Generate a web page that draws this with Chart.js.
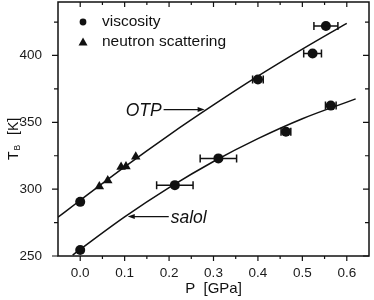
<!DOCTYPE html>
<html>
<head>
<meta charset="utf-8">
<script src="https://cdn.jsdelivr.net/npm/chart.js@4.4.1/dist/chart.umd.min.js"></script>
<style>
html, body { margin: 0; padding: 0; background: #fff; }
</style>
</head>
<body>
<canvas id="graficoTB" width="374" height="300"></canvas>
<script>
// viscosity (circles) + horizontal error half-widths
const viscP = [0, 0, 0.213, 0.311, 0.40, 0.463, 0.523, 0.553, 0.564];
const viscT = [290.5, 254.5, 303, 323, 382, 343, 401.5, 422, 362.5];
const viscErr = [0, 0, 0.041, 0.041, 0.012, 0.011, 0.02, 0.027, 0.012];
// neutron scattering (triangles)
const neutP = [0.043, 0.062, 0.092, 0.103, 0.125];
const neutT = [302, 306.5, 316.5, 317, 324.3];
// fit curves
const otpP = [-0.05, 0, 0.1, 0.2, 0.3, 0.4, 0.5, 0.6];
const otpT = [279, 291.7, 316.7, 340.5, 363, 384.5, 404.7, 424];
const salolP = [-0.017, 0.1, 0.2, 0.3, 0.4, 0.5, 0.62];
const salolT = [250.7, 279.2, 301.1, 320.7, 337.8, 352.7, 367.5];
// axes
const xTicks = [0.0, 0.1, 0.2, 0.3, 0.4, 0.5, 0.6];
const xMinor = [0.05, 0.15, 0.25, 0.35, 0.45, 0.55];
const yTicks = [250, 300, 350, 400];
const yMinor = [275, 325, 375, 425];
// curve names and where their arrows point
const curveNames = ['OTP', 'salol'];
const arrowTipP = [0.28, 0.107];
const arrowTipT = [359.5, 279.5];

const FONT = "'Liberation Sans', Arial, sans-serif";
const INK = '#111';

const toPts = (xs, ys) => xs.map((x, i) => ({ x: x, y: ys[i] }));

const marcoPlugin = {
    id: 'marco',
    afterDatasetsDraw(chart) {
        const ctx = chart.ctx, sx = chart.scales.x, sy = chart.scales.y;
        ctx.save();
        ctx.strokeStyle = INK;
        ctx.lineWidth = 1.5;
        viscP.forEach((p, i) => {
            if (!viscErr[i]) return;
            const y = sy.getPixelForValue(viscT[i]);
            const x0 = sx.getPixelForValue(p - viscErr[i]);
            const x1 = sx.getPixelForValue(p + viscErr[i]);
            ctx.beginPath();
            ctx.moveTo(x0, y); ctx.lineTo(x1, y);
            ctx.moveTo(x0, y - 4); ctx.lineTo(x0, y + 4);
            ctx.moveTo(x1, y - 4); ctx.lineTo(x1, y + 4);
            ctx.stroke();
        });
        ctx.restore();
    },
    afterDraw(chart) {
        const ctx = chart.ctx, ca = chart.chartArea;
        const sx = chart.scales.x, sy = chart.scales.y;
        ctx.save();
        ctx.strokeStyle = INK;
        ctx.fillStyle = INK;

        /* frame */
        ctx.lineWidth = 1.5;
        ctx.strokeRect(ca.left, ca.top, ca.right - ca.left, ca.bottom - ca.top);

        /* ticks: bottom/left outward, top/right inward */
        ctx.lineWidth = 1.2;
        ctx.beginPath();
        const xTick = (v, len) => {
            const x = sx.getPixelForValue(v);
            ctx.moveTo(x, ca.bottom); ctx.lineTo(x, ca.bottom + len);
            ctx.moveTo(x, ca.top); ctx.lineTo(x, ca.top + len);
        };
        const yTick = (v, len) => {
            const y = sy.getPixelForValue(v);
            ctx.moveTo(ca.left, y); ctx.lineTo(ca.left - len, y);
            ctx.moveTo(ca.right, y); ctx.lineTo(ca.right - len, y);
        };
        xTicks.forEach(v => xTick(v, 5));
        xMinor.forEach(v => xTick(v, 3));
        yTicks.forEach(v => yTick(v, 6));
        yMinor.forEach(v => yTick(v, 4));
        ctx.stroke();

        /* legend */
        const lx = ca.left + 25, ly1 = ca.top + 20, ly2 = ca.top + 40;
        ctx.beginPath();
        ctx.arc(lx, ly1, 3.4, 0, Math.PI * 2);
        ctx.fill();
        ctx.beginPath();
        ctx.moveTo(lx, ly2 - 4.5);
        ctx.lineTo(lx + 4.5, ly2 + 3.5);
        ctx.lineTo(lx - 4.5, ly2 + 3.5);
        ctx.closePath();
        ctx.fill();
        ctx.font = '15.5px ' + FONT;
        ctx.textAlign = 'left';
        ctx.textBaseline = 'middle';
        ctx.fillText(chart.data.datasets[0].label, lx + 19, ly1);
        ctx.fillText(chart.data.datasets[1].label, lx + 19, ly2);

        /* curve labels with arrows */
        ctx.font = 'italic 17.5px ' + FONT;
        ctx.textBaseline = 'alphabetic';
        ctx.lineWidth = 1.2;
        curveNames.forEach((name, i) => {
            const tx = sx.getPixelForValue(arrowTipP[i]);
            const ty = sy.getPixelForValue(arrowTipT[i]);
            const dir = i === 0 ? 1 : -1;   // OTP arrow points right, salol points left
            const tail = tx - dir * 41;
            ctx.beginPath();
            ctx.moveTo(tail, ty); ctx.lineTo(tx - dir * 5, ty);
            ctx.stroke();
            ctx.beginPath();
            ctx.moveTo(tx, ty);
            ctx.lineTo(tx - dir * 7, ty - 2.5);
            ctx.lineTo(tx - dir * 7, ty + 2.5);
            ctx.closePath();
            ctx.fill();
            ctx.textAlign = dir > 0 ? 'right' : 'left';
            ctx.fillText(name, tail - dir * 2, ty + 6.5);
        });

        /* axis titles */
        ctx.font = '15px ' + FONT;
        ctx.textAlign = 'center';
        ctx.textBaseline = 'alphabetic';
        ctx.fillText('P  [GPa]', (ca.left + ca.right) / 2, 293);

        ctx.translate(18, (ca.top + ca.bottom) / 2 + 31);
        ctx.rotate(-Math.PI / 2);
        ctx.textAlign = 'left';
        ctx.font = '14px ' + FONT;
        ctx.fillText('T', 0, 0);
        const wT = ctx.measureText('T').width;
        ctx.font = '8.5px ' + FONT;
        ctx.fillText('B', wT + 1, 2);
        ctx.font = '14px ' + FONT;
        ctx.fillText('[K]', 25, 0);
        ctx.restore();
    }
};

const grafico = new Chart(document.getElementById('graficoTB'), {
    type: 'scatter',
    data: {
        datasets: [{
                label: 'viscosity',
                data: toPts(viscP, viscT),
                pointStyle: 'circle',
                pointRadius: 5,
                backgroundColor: INK,
                borderColor: INK,
                borderWidth: 0
            },
            {
                label: 'neutron scattering',
                data: toPts(neutP, neutT),
                pointStyle: 'triangle',
                pointRadius: 5.5,
                backgroundColor: INK,
                borderColor: INK,
                borderWidth: 0
            },
            {
                label: 'OTP',
                data: toPts(otpP, otpT),
                showLine: true,
                pointRadius: 0,
                borderColor: INK,
                borderWidth: 1.5,
                cubicInterpolationMode: 'monotone'
            },
            {
                label: 'salol',
                data: toPts(salolP, salolT),
                showLine: true,
                pointRadius: 0,
                borderColor: INK,
                borderWidth: 1.5,
                cubicInterpolationMode: 'monotone'
            }]
    },
    options: {
        responsive: false,
        animation: false,
        devicePixelRatio: 1,
        layout: { autoPadding: false, padding: { top: 2, right: 5, left: 0, bottom: 0 } },
        plugins: {
            legend: { display: false },
            tooltip: { enabled: false }
        },
        scales: {
            x: {
                type: 'linear',
                min: -0.05,
                max: 0.65,
                grid: { display: false },
                border: { display: false },
                afterBuildTicks: s => { s.ticks = xTicks.map(v => ({ value: v })); },
                afterFit: s => { s.height = 44; s.paddingLeft = 0; s.paddingRight = 0; },
                ticks: {
                    padding: 1,
                    maxRotation: 0,
                    color: '#1a1a1a',
                    font: { family: FONT, size: 13.5 },
                    callback: v => Number(v).toFixed(1)
                }
            },
            y: {
                type: 'linear',
                min: 250,
                max: 440,
                grid: { display: false },
                border: { display: false },
                afterBuildTicks: s => { s.ticks = yTicks.map(v => ({ value: v })); },
                afterFit: s => { s.width = 58; s.paddingTop = 0; s.paddingBottom = 0; },
                ticks: {
                    padding: 8,
                    color: '#1a1a1a',
                    font: { family: FONT, size: 13.5 }
                }
            }
        }
    },
    plugins: [marcoPlugin]
});
</script>
</body>
</html>
